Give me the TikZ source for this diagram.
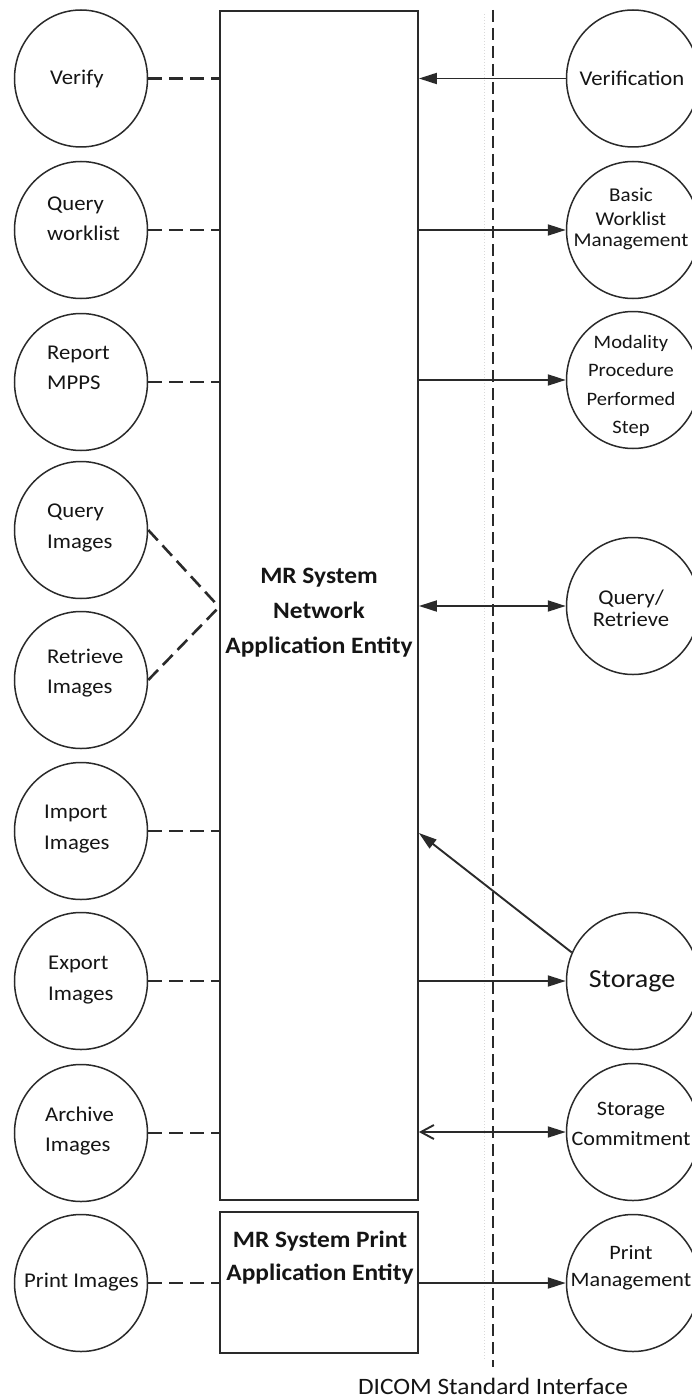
\documentclass[tikz,border=0pt]{standalone}
\usepackage{fontspec}
\setmainfont{Carlito}[FakeStretch=1.08]
\usetikzlibrary{arrows.meta,shapes.geometric}
\definecolor{ink}{HTML}{2A2A2A}
\definecolor{txt}{HTML}{151515}
\begin{document}
\begin{tikzpicture}[x=1pt,y=-1pt,
  circ/.style={ellipse,draw=ink,line width=1.5pt,minimum width=133pt,minimum height=137pt,inner sep=0pt},
  lbl/.style={font=\fontsize{21}{30.5}\selectfont,align=left,inner sep=0pt,text=txt,anchor=west},
  rlbl/.style={align=center,inner sep=0pt,text=txt},
  boxst/.style={draw=ink,line width=1.8pt,inner sep=0pt,minimum width=198pt},
  dlink/.style={draw=ink,line width=2.6pt,dash pattern=on 14pt off 7pt},
  arr/.style={draw=ink,line width=1.9pt,-{Triangle[length=18pt,width=11pt]}},
  darr/.style={draw=ink,line width=1.9pt,{Triangle[length=18pt,width=11pt]}-{Triangle[length=18pt,width=11pt]}},
  barr/.style={draw=ink,line width=1.9pt,{Straight Barb[length=13pt,width=14pt]}-{Triangle[length=18pt,width=11pt]}},
  iface/.style={draw=ink,line width=1.3pt,dash pattern=on 12pt off 6pt},
]
\fill[white] (0,0) rectangle (692,1399);
\useasboundingbox (0,0) rectangle (692,1399);

% interface lines
\coordinate (ftop) at (484,14);
\coordinate (fbot) at (484,1360);
\draw[gray!30,line width=1pt,dotted] (ftop) -- (fbot);
\coordinate (dtop) at (493,10);
\coordinate (dbot) at (493,1367);
\draw[iface] (dtop) -- (dbot);
\node[font=\fontsize{23.5}{28}\selectfont,text=txt,inner sep=0pt] (dicom) at (493,1386) {DICOM Standard Interface};

% application entities
\node[boxst,minimum height=1189pt] (net) at (319,605.5) {};
\node[boxst,minimum height=141pt] (prt) at (319,1282.5) {};
\node[font=\bfseries\fontsize{23.5}{35}\selectfont,align=center,text=txt,inner sep=0pt] (netT) at (319,613) {MR System\\Network\\Application Entity};
\node[font=\bfseries\fontsize{23.5}{33}\selectfont,align=center,text=txt,inner sep=0pt] (prtT) at (320,1258) {MR System Print\\Application Entity};

% left circles
\node[circ] (verify) at (81,78.5) {};
\node[circ] (qwl) at (81,230) {};
\node[circ] (rmpps) at (81,382) {};
\node[circ] (qimg) at (81,530) {};
\node[circ] (rimg) at (81,680) {};
\node[circ] (iimg) at (81,831) {};
\node[circ] (eimg) at (81,981) {};
\node[circ] (aimg) at (81,1133) {};
\node[circ] (pimg) at (81,1283) {};

\node[lbl] (verifyT) at (50,79) {Verify};
\node[lbl] (qwlT) at (47,219) {Query\\worklist};
\node[lbl] (rmppsT) at (47,368) {Report\\MPPS};
\node[lbl] (qimgT) at (47,528) {Query\\Images};
\node[lbl] (rimgT) at (47,673) {Retrieve\\Images};
\node[lbl] (iimgT) at (44,829) {Import\\Images};
\node[lbl] (eimgT) at (48,980) {Export\\Images};
\node[lbl] (aimgT) at (45,1131) {Archive\\Images};
\node[lbl] (pimgT) at (24,1282) {Print Images};

% right circles
\node[circ] (verif) at (633,78.5) {};
\node[circ] (bwm) at (633,230) {};
\node[circ] (mpps) at (633,380) {};
\node[circ] (qr) at (633,606) {};
\node[circ] (stor) at (633,981) {};
\node[circ] (scom) at (633,1132) {};
\node[circ] (pm) at (633,1283) {};

\node[rlbl,font=\fontsize{21}{25}\selectfont] (verifT) at (632,78) {Verification};
\node[rlbl,font=\fontsize{19.5}{24}\selectfont] (bwmT) at (631,219) {Basic\\Worklist\\[-3pt]Management};
\node[rlbl,font=\fontsize{19}{28.3}\selectfont] (mppsT) at (631,386) {Modality\\Procedure\\Performed\\Step};
\node[rlbl,font=\fontsize{21}{22}\selectfont] (qrT) at (631,608) {Query/\\Retrieve};
\node[rlbl,font=\fontsize{26}{30}\selectfont] (storT) at (632,981) {Storage};
\node[rlbl,font=\fontsize{20.5}{30}\selectfont] (scomT) at (631,1124) {Storage\\Commitment};
\node[rlbl,font=\fontsize{20.5}{27}\selectfont] (pmT) at (631,1268) {Print\\Management};

% dashed links (left)
\draw[dlink] (verify.east) -- (verify.east -| net.west);
\draw[dlink] (qwl.east) -- (qwl.east -| net.west);
\draw[dlink] (rmpps.east) -- (rmpps.east -| net.west);
\coordinate (qrIn) at (net.west |- 0,607);
\draw[dlink] (qimg.east) -- (qrIn);
\draw[dlink] (rimg.east) -- (qrIn);
\draw[dlink] (iimg.east) -- (iimg.east -| net.west);
\draw[dlink] (eimg.east) -- (eimg.east -| net.west);
\draw[dlink] (aimg.east) -- (aimg.east -| net.west);
\draw[dlink] (pimg.east) -- (pimg.east -| prt.west);

% arrows (right)
\draw[arr] (verif.west) -- (verif.west -| net.east);
\draw[arr] (bwm.west -| net.east) -- (bwm.west);
\draw[arr] (mpps.west -| net.east) -- (mpps.west);
\draw[darr] (qr.west -| net.east) -- (qr.west);
\coordinate (sIn) at (net.east |- 0,833);
\draw[arr] (stor.155) -- (sIn);
\draw[arr] (stor.west -| net.east) -- (stor.west);
\draw[barr] (scom.west -| net.east) -- (scom.west);
\draw[arr] (pm.west -| prt.east) -- (pm.west);
\end{tikzpicture}
\end{document}
